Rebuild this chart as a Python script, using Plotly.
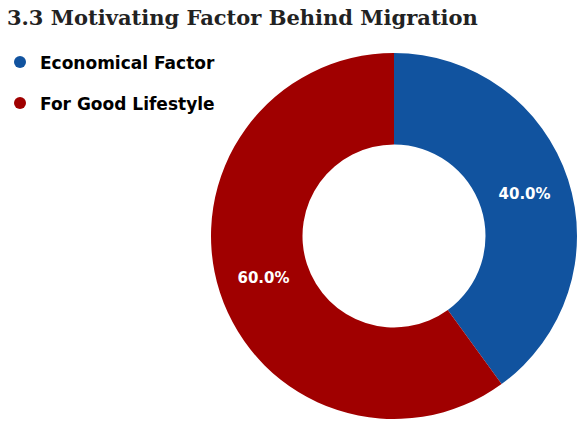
import plotly.graph_objects as go

labels = ["Economical Factor", "For Good Lifestyle"]
values = [40, 60]
colors = ["#11539f", "#a00000"]

fig = go.Figure()

fig.add_trace(go.Pie(
    labels=labels, values=values, hole=0.5, sort=False, direction="clockwise",
    rotation=0, marker=dict(colors=colors, line=dict(width=0)),
    texttemplate="%{percent:.1%}", textposition="inside", insidetextorientation="horizontal",
    textfont=dict(family="DejaVu Sans", size=15, color="white", weight="bold"),
    showlegend=False, hoverinfo="label+percent",
    domain=dict(x=[211/577, 1.0], y=[4/423, 370/423]),
))

for i, (lab, col) in enumerate(zip(labels, colors)):
    fig.add_trace(go.Scatter(
        x=[None], y=[None], mode="markers", name=lab, legendgroup=f"g{i}",
        marker=dict(symbol="circle", size=12, color=col),
    ))

fig.update_layout(
    width=577, height=423, margin=dict(l=0, r=0, t=0, b=0),
    paper_bgcolor="white", plot_bgcolor="white",
    xaxis=dict(visible=False), yaxis=dict(visible=False),
    title=dict(text="<b>3.3 Motivating Factor Behind Migration</b>", x=0.012, xanchor="left",
               y=0.958, yanchor="middle",
               font=dict(family="DejaVu Serif", size=21, color="#222222")),
    legend=dict(x=0.0, y=0.895, xanchor="left", yanchor="top", tracegroupgap=16,
                font=dict(family="DejaVu Sans", size=17, color="black", weight="bold"),
                bgcolor="rgba(0,0,0,0)"),
)

fig.write_html("out.html")
